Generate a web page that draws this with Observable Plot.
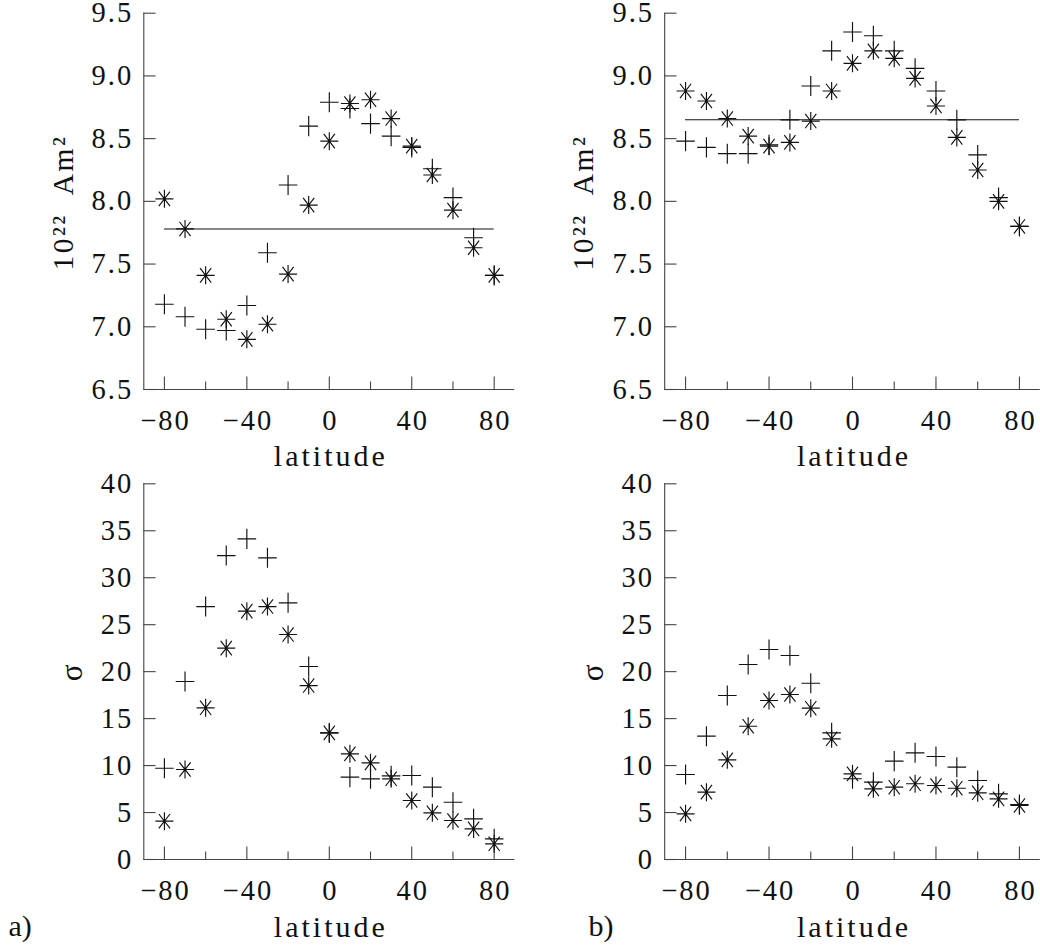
<!DOCTYPE html>
<html>
<head>
<meta charset="utf-8">
<script src="https://cdn.jsdelivr.net/npm/d3@7"></script>
<script src="https://cdn.jsdelivr.net/npm/@observablehq/plot@0.6"></script>
<style>
  html, body { margin: 0; padding: 0; background: #fff; }
  #wrap { position: relative; width: 1040px; height: 947px; overflow: hidden; background: #fff; }
  #wrap > div { position: absolute; }
  svg { overflow: visible; }
  svg, svg text { font-family: "Liberation Serif", "DejaVu Serif", serif !important; }
</style>
</head>
<body>
<div id="wrap">
  <div id="p1" style="left:0;top:0"></div>
  <div id="p2" style="left:520px;top:0"></div>
  <div id="p3" style="left:0;top:470px"></div>
  <div id="p4" style="left:520px;top:470px"></div>
</div>
<script>
// ---- data ----
const latitude = [-80, -70, -60, -50, -40, -30, -20, -10, 0, 10, 20, 30, 40, 50, 60, 70, 80];
const xMajorTicks = [-80, -40, 0, 40, 80];
const xMinorTicks = [-60, -20, 20, 60];
const momentTicks = [6.5, 7.0, 7.5, 8.0, 8.5, 9.0, 9.5];
const sigmaTicks = [0, 5, 10, 15, 20, 25, 30, 35, 40];

const aMomentPlus = [7.18, 7.08, 6.98, 6.97, 7.17, 7.59, 8.13, 8.60, 8.79, 8.74, 8.62, 8.52, 8.43, 8.26, 8.03, 7.71, 7.41];
const aMomentStar = [8.02, 7.78, 7.41, 7.06, 6.90, 7.02, 7.42, 7.97, 8.48, 8.78, 8.81, 8.66, 8.44, 8.21, 7.93, 7.63, 7.41];
const aMomentMean = 7.78;
const bMomentPlus = [8.48, 8.43, 8.38, 8.38, 8.45, 8.65, 8.92, 9.20, 9.35, 9.32, 9.20, 9.06, 8.88, 8.65, 8.37, 8.03, 7.80];
const bMomentStar = [8.88, 8.80, 8.66, 8.52, 8.44, 8.47, 8.64, 8.88, 9.10, 9.20, 9.14, 8.98, 8.76, 8.51, 8.25, 8.00, 7.80];
const bMomentMean = 8.65;
const aSigmaPlus = [9.72, 18.95, 26.93, 32.36, 34.14, 32.12, 27.33, 20.55, 13.48, 8.77, 8.59, 8.90, 8.94, 7.70, 6.10, 4.33, 2.20];
const aSigmaStar = [4.08, 9.58, 16.15, 22.50, 26.44, 26.93, 23.95, 18.52, 13.48, 11.25, 10.29, 8.59, 6.28, 4.97, 4.15, 3.26, 1.67];
const bSigmaPlus = [9.05, 13.13, 17.46, 20.76, 22.36, 21.72, 18.77, 13.48, 8.60, 8.23, 10.47, 11.36, 10.97, 9.83, 8.41, 6.99, 5.86];
const bSigmaStar = [4.86, 7.17, 10.61, 14.19, 16.93, 17.57, 16.11, 12.85, 9.12, 7.52, 7.70, 8.06, 7.88, 7.59, 7.10, 6.46, 5.75];

const momentLabel = "10²²  Am²";
const sigmaLabel = "σ";
const xLabel = "latitude";

// ---- symbols ----
const plusSymbol = {
  draw(ctx, size) {
    const r = Math.sqrt(size / Math.PI);
    ctx.moveTo(-r, 0); ctx.lineTo(r, 0);
    ctx.moveTo(0, -r * 1.08); ctx.lineTo(0, r * 1.08);
  }
};
const starSymbol = {
  draw(ctx, size) {
    const r = Math.sqrt(size / Math.PI);
    ctx.moveTo(-r, 0); ctx.lineTo(r, 0);
    ctx.moveTo(0, -r); ctx.lineTo(0, r);
    ctx.moveTo(-0.62 * r, -0.8 * r); ctx.lineTo(0.62 * r, 0.8 * r);
    ctx.moveTo(-0.62 * r, 0.8 * r); ctx.lineTo(0.62 * r, -0.8 * r);
  }
};

const FONT = "'Liberation Serif', 'DejaVu Serif', serif";
const axisColor = "#444";
const FS = 28.5;
const tickLS = 2;     // letter spacing of tick labels
const labelLS = 3;    // letter spacing of "latitude"
const yLabelLS = 2.5;

function panel(o) {
  const pw = o.width - o.mL - o.mR;
  const ph = o.height - o.mT - o.mB;
  const rows = latitude.map((x, i) => ({x, p: o.plus[i], s: o.star[i]}));
  const marks = [
    Plot.ruleX([o.xDomain[0]], {stroke: axisColor, strokeWidth: 1.1}),
    Plot.ruleY([o.yDomain[0]], {stroke: axisColor, strokeWidth: 1.1}),
    Plot.tickX(xMajorTicks, {x: d => d, insetTop: ph - 12.5, stroke: axisColor, strokeWidth: 1.1}),
    Plot.tickX(xMinorTicks, {x: d => d, insetTop: ph - 7.5, stroke: axisColor, strokeWidth: 1.1}),
    Plot.tickY(o.yTicks, {y: d => d, insetRight: pw - 12.3, stroke: axisColor, strokeWidth: 1.1}),
    Plot.axisX({ticks: xMajorTicks, tickSize: 0, tickPadding: 20, dx: tickLS / 2, label: null, fontSize: FS, fill: "#111"}),
    Plot.axisY({ticks: o.yTicks, tickSize: 0, tickPadding: 12.6 - tickLS, tickFormat: o.yFormat, label: null, fontSize: FS, fill: "#111"}),
  ];
  if (o.mean != null) {
    marks.push(Plot.ruleY([o.mean], {x1: latitude[0], x2: latitude[latitude.length - 1], stroke: "#111", strokeWidth: 1.1}));
  }
  marks.push(
    Plot.dot(rows, {x: "x", y: "p", symbol: plusSymbol, r: 9.3, stroke: "#111", fill: "none", strokeWidth: 1.15}),
    Plot.dot(rows, {x: "x", y: "s", symbol: starSymbol, r: 9, stroke: "#111", fill: "none", strokeWidth: 1.15}),
    Plot.text([xLabel], {frameAnchor: "bottom", dy: o.xLabelDy, dx: labelLS / 2, lineAnchor: "bottom", fontSize: 30, fill: "#111"}),
    Plot.text([o.yLabel], {frameAnchor: "left", rotate: -90, dx: o.yLabelDx, dy: yLabelLS / 2, lineAnchor: "bottom", textAnchor: "middle", fontSize: o.yLabelSize, fill: "#111"})
  );
  if (o.tag) {
    marks.push(Plot.text([o.tag], {frameAnchor: "bottom-left", dx: o.tagDx, dy: o.tagDy, textAnchor: "start", lineAnchor: "bottom", fontSize: 30, fill: "#111"}));
  }
  const svg = Plot.plot({
    width: o.width, height: o.height,
    marginLeft: o.mL, marginRight: o.mR, marginTop: o.mT, marginBottom: o.mB,
    x: {domain: o.xDomain},
    y: {domain: o.yDomain},
    style: {fontFamily: FONT, fontSize: FS + "px", background: "transparent", overflow: "visible"},
    marks
  });
  // letter spacing to imitate the wide original typeface
  svg.querySelectorAll("text").forEach(t => {
    const s = t.textContent;
    if (s === xLabel) t.setAttribute("letter-spacing", labelLS);
    else if (s === momentLabel) t.setAttribute("letter-spacing", yLabelLS);
    else if (s === "a)" || s === "b)" || s === sigmaLabel) {}
    else t.setAttribute("letter-spacing", tickLS);
  });
  return svg;
}

const xDomain = [-90, 90];
const fmt1 = d3.format(".1f");
const fmt0 = d3.format("d");

document.getElementById("p1").append(panel({
  width: 520, height: 470, mL: 143.3, mR: 5.7, mT: 12.7, mB: 81,
  xDomain, yDomain: [6.5, 9.5], yTicks: momentTicks, yFormat: fmt1,
  plus: aMomentPlus, star: aMomentStar, mean: aMomentMean,
  yLabel: momentLabel, yLabelDx: -71.3, yLabelSize: 29.5, xLabelDy: 76
}));
document.getElementById("p2").append(panel({
  width: 520, height: 470, mL: 144.2, mR: 0.2, mT: 12.7, mB: 81,
  xDomain, yDomain: [6.5, 9.5], yTicks: momentTicks, yFormat: fmt1,
  plus: bMomentPlus, star: bMomentStar, mean: bMomentMean,
  yLabel: momentLabel, yLabelDx: -71.3, yLabelSize: 29.5, xLabelDy: 76
}));
document.getElementById("p3").append(panel({
  width: 520, height: 477, mL: 143.3, mR: 5.7, mT: 13.3, mB: 88,
  xDomain, yDomain: [0, 40], yTicks: sigmaTicks, yFormat: fmt0,
  plus: aSigmaPlus, star: aSigmaStar, mean: null,
  yLabel: sigmaLabel, yLabelDx: -61.6, yLabelSize: 31, xLabelDy: 77.7,
  tag: "a)", tagDx: 8 - 143.3, tagDy: 76
}));
document.getElementById("p4").append(panel({
  width: 520, height: 477, mL: 144.2, mR: 0.2, mT: 13.3, mB: 88,
  xDomain, yDomain: [0, 40], yTicks: sigmaTicks, yFormat: fmt0,
  plus: bSigmaPlus, star: bSigmaStar, mean: null,
  yLabel: sigmaLabel, yLabelDx: -61.6, yLabelSize: 31, xLabelDy: 77.7,
  tag: "b)", tagDx: 68 - 144.2, tagDy: 76
}));
</script>
</body>
</html>
